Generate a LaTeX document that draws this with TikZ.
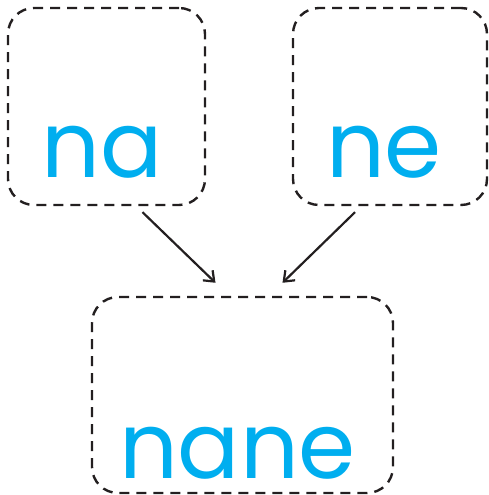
\documentclass[tikz,border=0pt]{standalone}
\usepackage{fontspec}
\setmainfont{Poppins}
\usepackage{xcolor}
\usetikzlibrary{calc,arrows.meta}
\definecolor{sky}{HTML}{00AEEF}
\definecolor{ink}{HTML}{231F20}
\tikzset{card/.style={draw=ink,line width=2.4pt,dash pattern=on 10pt off 7pt,rounded corners=26pt,inner sep=0pt},
  word/.style={sky,font=\fontsize{92}{92}\selectfont,anchor=base,inner sep=0pt},
  link/.style={ink,line width=2.2pt,-{Straight Barb[length=9pt,width=14pt,line width=2.2pt]}}}
\begin{document}
\begin{tikzpicture}[x=1pt,y=1pt]
\useasboundingbox (0,0) rectangle (488,495);
\node[card,minimum width=197pt,minimum height=197pt] (na) at (106.5,388.5) {};
\node[card,minimum width=194pt,minimum height=197pt] (ne) at (390,388.5) {};
\node[card,minimum width=301pt,minimum height=196pt] (nane) at (242.5,100) {};
\node[word] (naw) at ([xshift=-4pt,yshift=29pt]na.south) {na};
\node[word] (new) at ([xshift=-6pt,yshift=29pt]ne.south) {ne};
\node[word] (nanew) at ([xshift=-5pt,yshift=16pt]nane.south) {nane};
\draw[link] ([xshift=36pt,yshift=-6pt]na.south) -- ([xshift=-27pt,yshift=13pt]nane.north);
\draw[link] ([xshift=-35pt,yshift=-6pt]ne.south) -- ([xshift=40pt,yshift=13pt]nane.north);
\end{tikzpicture}
\end{document}
